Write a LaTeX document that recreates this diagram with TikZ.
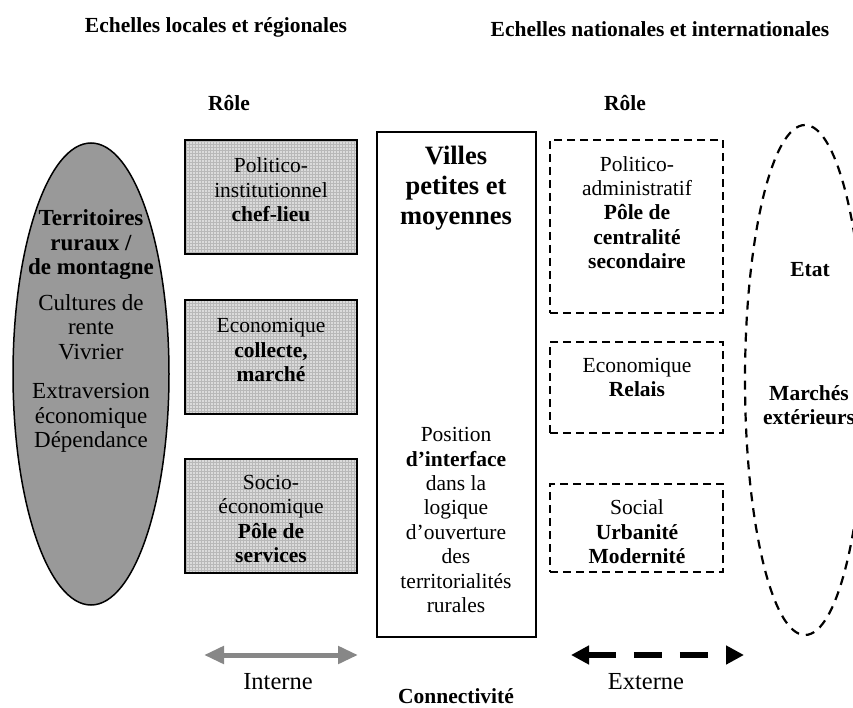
\documentclass[tikz,border=0pt]{standalone}
\usepackage{fontspec}
\setmainfont{Liberation Serif}
\usetikzlibrary{shapes.geometric,arrows.meta,patterns,positioning}

\newcommand{\txt}{\fontsize{21.5}{24.4}\selectfont}
\newcommand{\rurtxt}{\fontsize{23}{24.5}\selectfont}
\newcommand{\bigtxt}{\fontsize{26.5}{30}\selectfont}
\newcommand{\arrtxt}{\fontsize{24.5}{28}\selectfont}

\begin{document}
\begin{tikzpicture}[x=1pt, y=-1pt,
	lbl/.style={font=\txt, align=center, inner sep=0pt},
	hdr/.style={font=\txt\bfseries, align=center, inner sep=0pt},
	graybox/.style={draw=black, line width=2pt, rectangle, minimum width=172pt, minimum height=114pt, preaction={fill=black!14}, pattern=grid, pattern color=black!28},
	dashbox/.style={draw=black, line width=2.2pt, dash pattern=on 8pt off 5pt, rectangle, minimum width=173pt}]
	\clip (0,0) rectangle (853,708);

	% titres
	\node[hdr] (tl) at (216,27) {Echelles locales et régionales};
	\node[hdr] (tr) at (660,29) {Echelles nationales et internationales};
	\node[hdr] (rl) at (229,103) {Rôle};
	\node[hdr] (rr) at (625,103) {Rôle};

	% territoires ruraux
	\node[ellipse, draw=black, line width=1.5pt, fill=black!40, minimum width=156pt, minimum height=462pt, inner sep=0pt] (rur) at (91,374) {};
	\node[lbl, font=\rurtxt\bfseries] (rurt) at (91,245) {Territoires\\ruraux /\\de montagne};
	\node[lbl, font=\rurtxt] (cult) at (91,327) {Cultures de\\rente\\Vivrier};
	\node[lbl, font=\rurtxt] (extr) at (91,418) {Extraversion\\économique\\Dépendance};

	% roles internes
	\node[graybox] (pol) at (271,197) {};
	\node[graybox] (eco) at (271,357) {};
	\node[graybox] (soc) at (271,516) {};
	\node[lbl] (polt) at (271,190) {Politico-\\institutionnel\\\textbf{chef-lieu}};
	\node[lbl] (ecot) at (271,350) {Economique\\\textbf{collecte,}\\\textbf{marché}};
	\node[lbl] (soct) at (271,519) {Socio-\\économique\\\textbf{Pôle de}\\\textbf{services}};

	% villes
	\node[draw=black, line width=2.2pt, rectangle, minimum width=159pt, minimum height=505pt] (vil) at (456.5,384.5) {};
	\node[lbl, font=\bigtxt\bfseries] (vilt) at (456,188) {Villes\\petites et\\moyennes};
	\node[lbl] (post) at (456,520) {Position\\\textbf{d'interface}\\dans la\\logique\\d'ouverture\\des\\territorialités\\rurales};

	% roles externes
	\node[dashbox, minimum height=173pt] (adm) at (636.5,226.5) {};
	\node[dashbox, minimum height=91pt] (rel) at (636.5,387.5) {};
	\node[dashbox, minimum height=88pt] (urb) at (636.5,528) {};
	\node[lbl] (admt) at (637,212.5) {Politico-\\administratif\\\textbf{Pôle de}\\\textbf{centralité}\\\textbf{secondaire}};
	\node[lbl] (relt) at (637,377.5) {Economique\\\textbf{Relais}};
	\node[lbl] (urbt) at (637,532) {Social\\\textbf{Urbanité}\\\textbf{Modernité}};

	% etat et marches
	\node[ellipse, draw=black, line width=2.2pt, dash pattern=on 9pt off 7pt, minimum width=120pt, minimum height=510pt, inner sep=0pt] (ext) at (805,380) {};
	\node[hdr] (etat) at (810,270) {Etat};
	\node[hdr] (mar) at (809,405) {Marchés\\extérieurs};

	% connectivite
	\coordinate (in1) at (204,655);
	\coordinate (in2) at (358,655);
	\coordinate (ex1) at (571,655);
	\coordinate (ex2) at (744,655);
	\draw[line width=5pt, black!47, {Triangle[length=20pt,width=17pt]}-{Triangle[length=20pt,width=17pt]}] (in1) -- (in2);
	\draw[line width=6pt, dash pattern=on 28pt off 18pt, {Triangle[length=18pt,width=18pt]}-{Triangle[length=18pt,width=18pt]}] (ex1) -- (ex2);
	\node[font=\arrtxt, inner sep=0pt] (int) at (278,682) {Interne};
	\node[font=\arrtxt, inner sep=0pt] (ext2) at (646,682) {Externe};
	\node[hdr] (con) at (456,696) {Connectivité};
\end{tikzpicture}
\end{document}
